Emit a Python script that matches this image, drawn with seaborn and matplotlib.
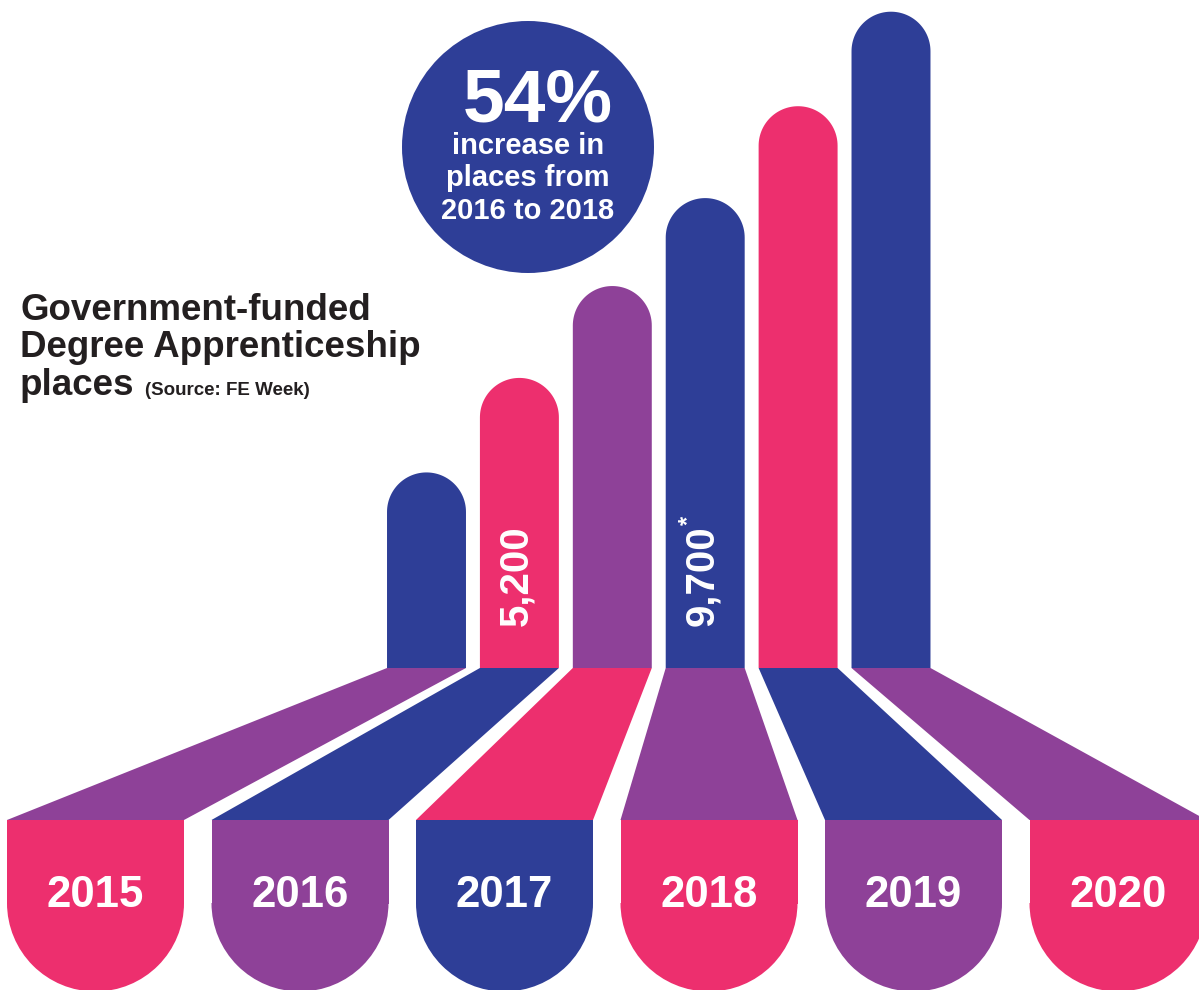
import numpy as np
import pandas as pd
import matplotlib.pyplot as plt
from matplotlib.patches import Circle, Polygon, Rectangle, Wedge
import seaborn as sns

# Data read off the infographic (bars are illustrative, tallest = 100)
years = ["2015", "2016", "2017", "2018", "2019", "2020"]
bar_height = [29.8, 44.2, 58.2, 71.6, 85.6, 100.0]
bar_label = ["", "5,200", "", "9,700", "", ""]
bar_note = ["", "", "", "*", "", ""]

headline = "54%"
headline_sub = ["increase in", "places from", "2016 to 2018"]
title_lines = ["Government-funded", "Degree Apprenticeship", "places"]
source = "(Source: FE Week)"

NAVY = "#2E3E97"
PINK = "#ED2F6E"
PURPLE = "#8E4198"
INK = "#231F20"
bar_colors = [NAVY, PINK, PURPLE, NAVY, PINK, NAVY]
fan_colors = [PURPLE, NAVY, PINK, PURPLE, NAVY, PURPLE]
tab_colors = [PINK, PURPLE, NAVY, PINK, PURPLE, PINK]

sns.set_theme(style="white")
plt.rcParams["font.family"] = ["Liberation Sans", "DejaVu Sans"]

W, H = 1199, 990
fig = plt.figure(figsize=(W / 100, H / 100), dpi=100)

# layout in pixels
base_px = 668        # bottom of the bars
step = 92.9          # bar spacing
first_cx = 426.5
top_px = 656.3       # pixel height of the tallest bar
tab_top, tab_round = 820, 903
tab_w = 177
tab_cx = np.linspace(95.5, 1118, len(years))

# bar panel (seaborn barplot, categorical axis)
left = first_cx - step / 2
bx = fig.add_axes([left / W, (H - base_px) / H, len(years) * step / W, base_px / H])
df = pd.DataFrame({"year": years, "height": bar_height})
sns.barplot(data=df, x="year", y="height", hue="year", palette=bar_colors,
            width=0.85, saturation=1, legend=False, ax=bx)
ymax = 100 * base_px / top_px
bx.set_xlim(-0.5, len(years) - 0.5)
bx.set_ylim(0, ymax)
bx.axis("off")

# canvas on top for everything else (pixel coords, y down)
ax = fig.add_axes([0, 0, 1, 1])
ax.set_xlim(0, W)
ax.set_ylim(H, 0)
ax.axis("off")

bars = sorted(bx.patches, key=lambda p: p.get_x())
to_canvas = lambda pts: ax.transData.inverted().transform(bx.transData.transform(pts))
arc = np.linspace(0, np.pi, 60)

for i, p in enumerate(bars):
    x0, w, h = p.get_x(), p.get_width(), p.get_height()
    # rounded top: redraw the bar as one outline with a half-circle cap
    r_y = (w * step / 2) * ymax / base_px
    cx = x0 + w / 2
    outline = [(x0, 0), (x0 + w, 0)] + list(zip(cx + w / 2 * np.cos(arc),
                                               h - r_y + r_y * np.sin(arc)))
    p.set_visible(False)
    bx.add_patch(Polygon(outline, closed=True, facecolor=bar_colors[i],
                         edgecolor="none", clip_on=False))

    # fan from bar bottom to year tab
    (bl, _), (br, _) = to_canvas([(x0, 0), (x0 + w, 0)])
    tl, tr = tab_cx[i] - tab_w / 2, tab_cx[i] + tab_w / 2
    ax.add_patch(Polygon([(bl, base_px), (br, base_px), (tr, tab_top), (tl, tab_top)],
                         closed=True, facecolor=fan_colors[i], edgecolor="none"))

    # year tab
    ax.add_patch(Rectangle((tl, tab_top), tab_w, tab_round - tab_top + 1,
                           facecolor=tab_colors[i], edgecolor="none"))
    ax.add_patch(Wedge((tab_cx[i], tab_round), tab_w / 2, 0, 180,
                       facecolor=tab_colors[i], edgecolor="none"))
    ax.text(tab_cx[i], 907, years[i], color="white", fontsize=31.5,
            fontweight="bold", ha="center", va="baseline")

    # value label inside the bar
    px = (bl + br) / 2
    if bar_label[i]:
        ax.text(px - 3, 576, bar_label[i], color="white", fontsize=29, fontweight="bold",
                rotation=90, ha="center", va="center")
    if bar_note[i]:
        ax.text(px - 17, 520, bar_note[i], color="white", fontsize=17,
                fontweight="bold", rotation=90, ha="center", va="center")

# headline bubble
ax.add_patch(Circle((528, 147), 126, facecolor=NAVY, edgecolor="none"))
ax.text(538, 121, headline, color="white", fontsize=54, fontweight="bold",
        ha="center", va="baseline")
for k, line in enumerate(headline_sub):
    ax.text(528, 154 + 32.3 * k, line, color="white", fontsize=21,
            fontweight="bold", ha="center", va="baseline")

# title block
for k, line in enumerate(title_lines):
    ax.text(20, 320 + 37.3 * k, line, color=INK, fontsize=26.5,
            fontweight="bold", ha="left", va="baseline")
ax.text(145, 394.6, source, color=INK, fontsize=13.5, fontweight="bold",
        ha="left", va="baseline")

fig.savefig("out.png", dpi=100)
